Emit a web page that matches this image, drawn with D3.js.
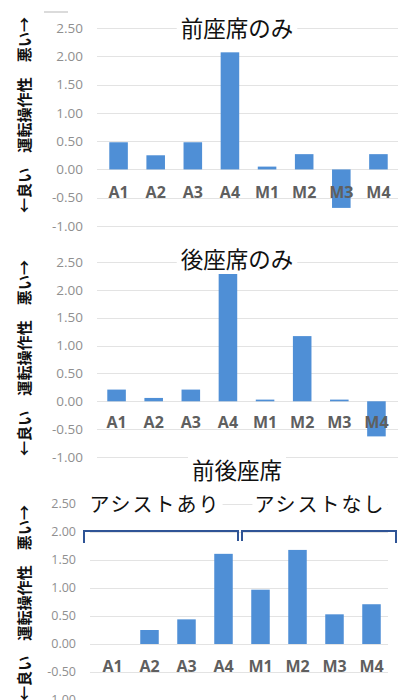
<!DOCTYPE html>
<html><head><meta charset="utf-8">
<script src="https://cdn.jsdelivr.net/npm/d3@7"></script>
<style>body{margin:0;background:#fff}svg{display:block}</style>
</head><body>
<svg id="c" width="404" height="700"></svg>
<script>
const categories = ["A1","A2","A3","A4","M1","M2","M3","M4"];
const frontOnly = [0.48, 0.25, 0.48, 2.07, 0.05, 0.27, -0.68, 0.27];
const rearOnly = [0.21, 0.06, 0.21, 2.29, 0.03, 1.17, 0.03, -0.63];
const frontRear = [0, 0.25, 0.44, 1.61, 0.97, 1.68, 0.53, 0.71];
const tickValues = [2.5, 2.0, 1.5, 1.0, 0.5, 0.0, -0.5, -1.0];
const titles = ["前座席のみ", "後座席のみ", "前後座席"];
const yAxisLabel = "←良い　運転操作性　悪い→";
const groupLabels = ["アシストあり", "アシストなし"];

const svg = d3.select("#c");
const barColor = "#4f8fd6";
const CJK = "'Noto Sans CJK JP','Noto Sans',sans-serif";

const panels = [
  {data: frontOnly, top: 28, bottom: 226, xr: [100, 397], gx: [97, 398], tickX: 83, tickFs: 13.5, catY: 198, title: titles[0], titleY: 37, labelCY: 115},
  {data: rearOnly, top: 262, bottom: 457, xr: [98, 395], gx: [97, 398], tickX: 83, tickFs: 13.5, catY: 428, title: titles[1], titleY: 268, labelCY: 358},
  {data: frontRear, top: 504, bottom: 700, xr: [94, 390], gx: [90, 388], tickX: 76, tickFs: 12.5, catY: 672, title: titles[2], titleY: 479, labelCY: 603}
];

panels.forEach((p, pi) => {
  const g = svg.append("g");
  const y = d3.scaleLinear().domain([-1, 2.5]).range([p.bottom, p.top]);
  const x = d3.scaleBand().domain(categories).range(p.xr).paddingInner(0.5).paddingOuter(0.25);

  g.selectAll(".grid").data(tickValues).join("line")
    .attr("x1", p.gx[0]).attr("x2", p.gx[1])
    .attr("y1", d => Math.round(y(d)) + 0.5).attr("y2", d => Math.round(y(d)) + 0.5)
    .attr("stroke", "#e3e3e3").attr("stroke-width", 1);

  g.selectAll(".tick").data(tickValues).join("text")
    .attr("x", p.tickX).attr("y", d => y(d)).attr("dy", "0.35em")
    .attr("text-anchor", "end")
    .attr("font-family", "'Open Sans',sans-serif").attr("font-size", p.tickFs)
    .attr("fill", "#8f8f8f")
    .text(d => d.toFixed(2));

  g.selectAll(".bar").data(p.data).join("rect")
    .attr("x", (d, i) => x(categories[i]))
    .attr("width", x.bandwidth())
    .attr("y", d => y(Math.max(0, d)))
    .attr("height", d => Math.abs(y(d) - y(0)))
    .attr("fill", barColor);

  g.selectAll(".cat").data(categories).join("text")
    .attr("x", d => x(d) + x.bandwidth() / 2).attr("y", p.catY)
    .attr("text-anchor", "middle")
    .attr("font-family", "'Open Sans',sans-serif").attr("font-weight", "bold").attr("font-size", 16)
    .attr("fill", "#5f5f5f")
    .text(d => d);

  const tt = g.append("text")
    .attr("x", 237).attr("y", p.titleY)
    .attr("text-anchor", "middle")
    .attr("font-family", CJK).attr("font-size", 22.5).attr("font-weight", 400)
    .attr("fill", "#111")
    .text(p.title);
  const bb = tt.node().getBBox();
  g.insert("rect", () => tt.node())
    .attr("x", bb.x - 4).attr("y", bb.y).attr("width", bb.width + 8).attr("height", bb.height)
    .attr("fill", "#fff");

  g.append("text")
    .attr("transform", `translate(25,${p.labelCY}) rotate(-90)`)
    .attr("text-anchor", "middle").attr("dy", "0.35em")
    .attr("font-family", CJK).attr("font-weight", "bold").attr("font-size", 15)
    .attr("textLength", 196).attr("lengthAdjust", "spacing")
    .attr("fill", "#111")
    .text(yAxisLabel);

  if (pi === 2) {
    const lx = [155, 320];
    groupLabels.forEach((t, i) => {
      const lt = g.append("text")
        .attr("x", lx[i]).attr("y", 512)
        .attr("text-anchor", "middle")
        .attr("font-family", CJK).attr("font-size", 20).attr("font-weight", 400)
        .attr("letter-spacing", 2)
        .attr("fill", "#111")
        .text(t);
      const b = lt.node().getBBox();
      g.insert("rect", () => lt.node())
        .attr("x", b.x - 2).attr("y", b.y).attr("width", b.width + 4).attr("height", b.height)
        .attr("fill", "#fff");
    });
    const brackets = [[84, 238, 543, 541], [242, 396, 541, 543]];
    g.selectAll(".br").data(brackets).join("path")
      .attr("d", d => `M${d[0]},${d[2]}V531H${d[1]}V${d[3]}`)
      .attr("fill", "none").attr("stroke", "#2f5496").attr("stroke-width", 2);
  }
});

svg.append("line").attr("x1", 44).attr("x2", 68).attr("y1", 12).attr("y2", 12)
  .attr("stroke", "#cfcfcf").attr("stroke-width", 1.5);
</script>
</body></html>
